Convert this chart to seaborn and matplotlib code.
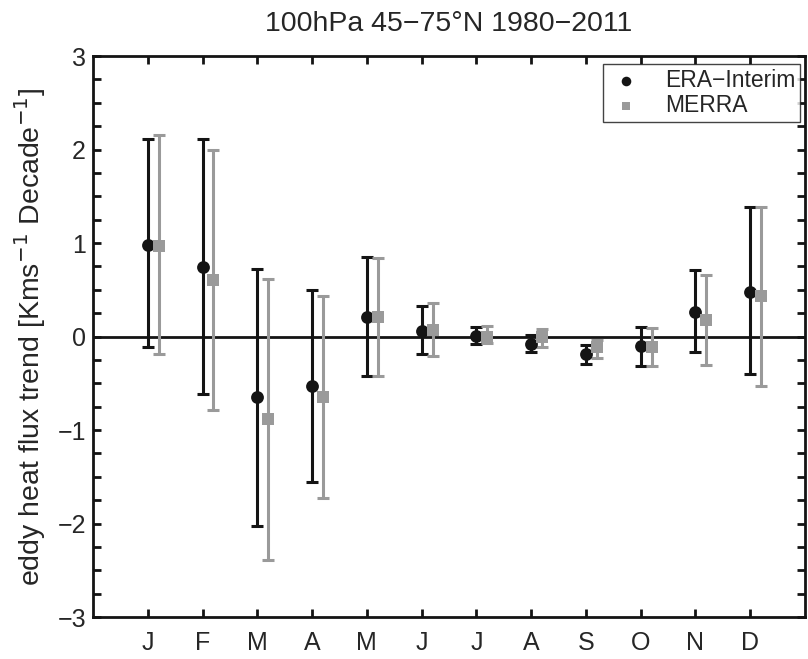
import numpy as np
import pandas as pd
import matplotlib
matplotlib.use('Agg')
import matplotlib.pyplot as plt
import seaborn as sns
from matplotlib.ticker import MultipleLocator

meses = ['J', 'F', 'M', 'A', 'M', 'J', 'J', 'A', 'S', 'O', 'N', 'D']

# ERA-Interim: tendencia e limites do intervalo
era_trend = [0.98, 0.74, -0.65, -0.53, 0.21, 0.06, 0.01, -0.08, -0.19, -0.10, 0.26, 0.48]
era_upper = [2.11, 2.11, 0.72, 0.50, 0.85, 0.33, 0.10, 0.02, -0.09, 0.10, 0.71, 1.38]
era_lower = [-0.11, -0.61, -2.03, -1.56, -0.42, -0.19, -0.08, -0.17, -0.29, -0.31, -0.17, -0.40]

# MERRA
merra_trend = [0.97, 0.60, -0.88, -0.65, 0.21, 0.07, 0.00, -0.01, -0.11, -0.11, 0.18, 0.43]
merra_upper = [2.16, 2.00, 0.62, 0.43, 0.84, 0.36, 0.11, 0.08, -0.04, 0.09, 0.66, 1.39]
merra_lower = [-0.19, -0.79, -2.39, -1.73, -0.42, -0.21, -0.07, -0.11, -0.23, -0.32, -0.30, -0.53]

preto = '#141414'
cinza = '#9a9a9a'

x = np.arange(1, 13)
era = pd.DataFrame({'mes': x, 'trend': era_trend, 'up': era_upper, 'low': era_lower})
merra = pd.DataFrame({'mes': x + 0.2, 'trend': merra_trend, 'up': merra_upper, 'low': merra_lower})

sns.set_style('ticks')
plt.rcParams['font.family'] = ['Liberation Sans', 'DejaVu Sans']

fig = plt.figure(figsize=(8.08, 6.59), dpi=100)
ax = fig.add_axes([0.1151, 0.0637, 0.8812, 0.8513])

ax.axhline(0, color=preto, linewidth=2, zorder=1)

for df, cor in [(era, preto), (merra, cinza)]:
    ax.errorbar(df['mes'], df['trend'],
                yerr=[df['trend'] - df['low'], df['up'] - df['trend']],
                fmt='none', ecolor=cor, elinewidth=2.2, capsize=4.3, capthick=2.2, zorder=2)

sns.scatterplot(data=era, x='mes', y='trend', ax=ax, color=preto, marker='o', s=85,
                edgecolor=preto, linewidth=0, label='ERA\u2212Interim', zorder=3)
sns.scatterplot(data=merra, x='mes', y='trend', ax=ax, color=cinza, marker='s', s=70,
                edgecolor=cinza, linewidth=0, label='MERRA', zorder=3)

ax.set_xlim(0, 13)
ax.set_ylim(-3, 3)
ax.set_xticks(x)
ax.set_xticklabels(meses)
ax.yaxis.set_major_locator(MultipleLocator(1))
ax.yaxis.set_minor_locator(MultipleLocator(0.25))
ax.tick_params(which='both', direction='in', length=6, width=2, top=True, right=True,
               labelsize=18, color=preto)
ax.tick_params(axis='x', pad=10)
ax.tick_params(axis='y', pad=5)
for s in ax.spines.values():
    s.set_linewidth(2)
    s.set_color(preto)

ax.set_xlabel('')
ax.set_ylabel('eddy heat flux trend [Kms$^{-1}$ Decade$^{-1}$]', fontsize=20.5, labelpad=7)
ax.set_title('100hPa 45\u221275\u00b0N 1980\u22122011', fontsize=20.5, pad=18)

leg = ax.legend(loc='upper right', fontsize=16.5, frameon=True, fancybox=False,
                edgecolor=preto, borderpad=0.2, handletextpad=0.9, labelspacing=0.1,
                handlelength=1.6, markerscale=0.75, bbox_to_anchor=(0.993, 0.985),
                borderaxespad=0)
leg.get_frame().set_linewidth(1)

fig.savefig('out.png', dpi=100)
